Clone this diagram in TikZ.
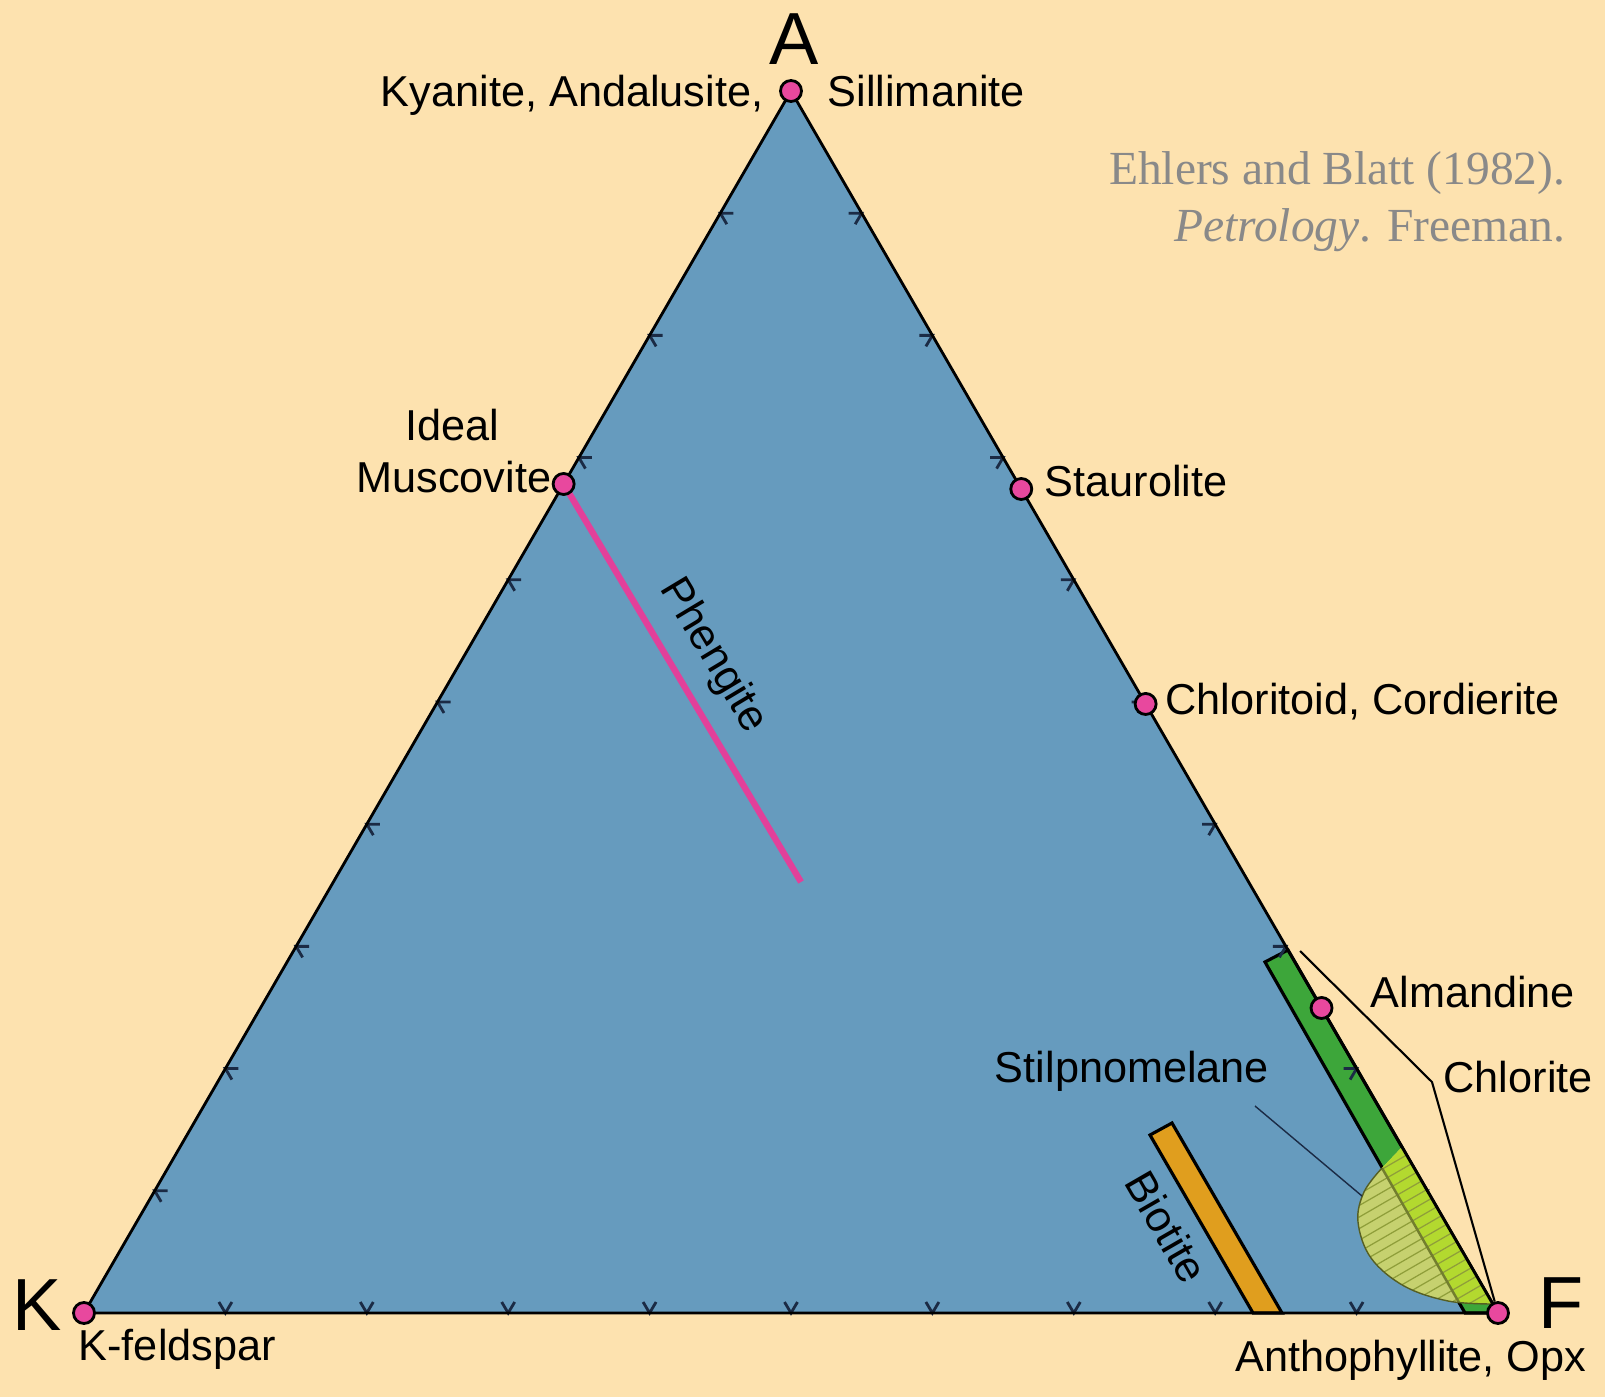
\documentclass[tikz,border=0pt]{standalone}
\usepackage{fontspec}
\setmainfont{Liberation Sans}
\newfontfamily\citefont{Liberation Serif}
\usetikzlibrary{calc}

\definecolor{paper}{HTML}{FDE2AF}
\definecolor{akfblue}{HTML}{669BBE}
\definecolor{dotpink}{HTML}{E8489E}
\definecolor{phengpink}{HTML}{E2409A}
\definecolor{chlgreen}{HTML}{3DA63A}
\definecolor{biotorange}{HTML}{E09E1E}
\definecolor{stilpolive}{HTML}{C6D16F}
\definecolor{stilplime}{HTML}{B3D92F}
\definecolor{hatcholive}{HTML}{8F9E3A}
\definecolor{tickblue}{HTML}{1B2B45}
\definecolor{citegrey}{HTML}{898989}

\tikzset{
  mineral/.style={circle, draw=black, fill=dotpink, line width=0.8pt, minimum size=0.21cm, inner sep=0pt},
  lbl/.style={inner sep=0pt, font=\fontsize{12.3}{14.5}\selectfont},
  corner/.style={inner sep=0pt, font=\fontsize{21}{24}\selectfont},
  tickmark/.style={draw=tickblue, line width=0.8pt},
  leader/.style={draw=black, line width=0.6pt},
}

\newcommand{\stilpshape}{(1402,1147) -- plot[smooth, tension=0.6] coordinates {
    (1382,1168) (1364,1192) (1358,1222) (1371,1258) (1404,1286) (1448,1301) (1492,1304)} -- cycle}

\begin{document}
\begin{tikzpicture}[x=0.01cm, y=-0.01cm]
    \useasboundingbox[fill=paper] (0,0) rectangle (1605,1397);

    %%% Corners of the AKF triangle
    \coordinate (A) at (791,91);
    \coordinate (K) at (84,1313);
    \coordinate (F) at (1498,1313);
    \fill[akfblue] (A) -- (K) -- (F) -- cycle;

    %%% Phengite
    \coordinate (phe) at (801,882);
    \draw[phengpink, line width=1.8pt] ($(A)!0.3216!(K)$) -- (phe);

    %%% Biotite band
    \filldraw[fill=biotorange, draw=black, line width=0.9pt]
        (1150,1135) -- (1172,1123) -- (1282,1313) -- (1253,1313) -- cycle;

    %%% Chlorite band along A-F
    \coordinate (chl1) at (1288,950);
    \coordinate (chl2) at (1265,962);
    \coordinate (chl3) at (1465,1313);
    \filldraw[fill=chlgreen, draw=black, line width=0.9pt]
        (chl1) -- (chl2) -- (chl3) -- (F) -- cycle;

    %%% Ticks every 10%
    \foreach \i in {1,...,9} {
        \draw[tickmark] ($(K)!\i/10!(F)$) ++(-6.5,-11) -- ++(6.5,11) -- ++(6.5,-11);
        \draw[tickmark] ($(A)!\i/10!(K)$) ++(13,0) -- ++(-13,0) -- ++(6.5,11);
        \draw[tickmark] ($(A)!\i/10!(F)$) ++(-13,0) -- ++(13,0) -- ++(-6.5,11);
    }

    %%% Stilpnomelane field
    \fill[stilpolive] \stilpshape;
    \begin{scope}
        \clip (chl1) -- (chl2) -- (chl3) -- (F) -- cycle;
        \fill[stilplime] \stilpshape;
    \end{scope}
    \begin{scope}
        \clip \stilpshape;
        \foreach \k in {0,...,22}
            \draw[hatcholive, line width=0.35pt] (1330+\k*5, 1130+\k*8.66) ++(-173,100) -- ++(346,-200);
        \draw[hatcholive!80!black, line width=0.7pt] (1382,1168) -- (chl3);
    \end{scope}
    \draw[hatcholive!60!black, line width=0.4pt] plot[smooth, tension=0.6] coordinates {
        (1382,1168) (1364,1192) (1358,1222) (1371,1258) (1404,1286) (1448,1301) (1492,1304)};

    %%% Triangle outline
    \draw[black, line width=0.8pt] (A) -- (K) -- (F) -- cycle;

    %%% Mineral points
    \node (kas) [mineral] at (A) {};
    \node (mus) [mineral] at ($(A)!0.3216!(K)$) {};
    \node (sta) [mineral] at ($(A)!0.3257!(F)$) {};
    \node (ctd) [mineral] at ($(A)!0.5016!(F)$) {};
    \node (alm) [mineral] at ($(A)!0.7504!(F)$) {};
    \node (ksp) [mineral] at (K) {};
    \node (ath) [mineral] at (F) {};

    %%% Leaders
    \coordinate (chltop) at (1300,951);
    \coordinate (chlbend) at (1432,1082);
    \draw[leader] (chltop) -- (chlbend) -- (ath);
    \coordinate (stptail) at (1255,1106);
    \coordinate (stphead) at (1362,1196);
    \draw[tickblue, line width=0.4pt] (stptail) -- (stphead);

    %%% Corner letters
    \node (lblA) [corner, anchor=base] at (794,65) {A};
    \node (lblK) [corner, anchor=base west] at (12,1330) {K};
    \node (lblF) [corner, anchor=base west] at (1538,1328) {F};

    %%% Mineral labels
    \node (lblkya) [lbl, anchor=base east] at (764,107) {Kyanite, Andalusite,};
    \node (lblsil) [lbl, anchor=base west] at (827,107) {Sillimanite};
    \node (lblmus) [lbl, anchor=base east] at (552,492) {Muscovite};
    \node (lblide) [lbl, anchor=base] at (452,441) {Ideal};
    \node (lblsta) [lbl, anchor=base west] at (1044,497) {Staurolite};
    \node (lblctd) [lbl, anchor=base west] at (1165,715) {Chloritoid, Cordierite};
    \node (lblalm) [lbl, anchor=base west] at (1370,1007) {Almandine};
    \node (lblchl) [lbl, anchor=base west] at (1443,1092) {Chlorite};
    \node (lblstp) [lbl, anchor=base] at (1132,1082) {Stilpnomelane};
    \node (lblksp) [lbl, anchor=base west] at (78,1360) {K-feldspar};
    \node (lblath) [lbl, anchor=base east] at (1587,1371) {Anthophyllite, Opx};
    \node (lblphe) [lbl, rotate=-59] at (713,656) {Phengite};
    \node (lblbio) [lbl, rotate=-60] at (1167,1227) {Biotite};

    %%% Source
    \node (src1) [inner sep=0pt, anchor=base east, text=citegrey, font=\citefont\fontsize{13.5}{16}\selectfont]
        at (1566,185) {Ehlers and Blatt (1982).};
    \node (src2) [inner sep=0pt, anchor=base east, text=citegrey, font=\citefont\fontsize{13.5}{16}\selectfont]
        at (1566,242) {\textit{Petrology}. Freeman.};

\end{tikzpicture}
\end{document}
